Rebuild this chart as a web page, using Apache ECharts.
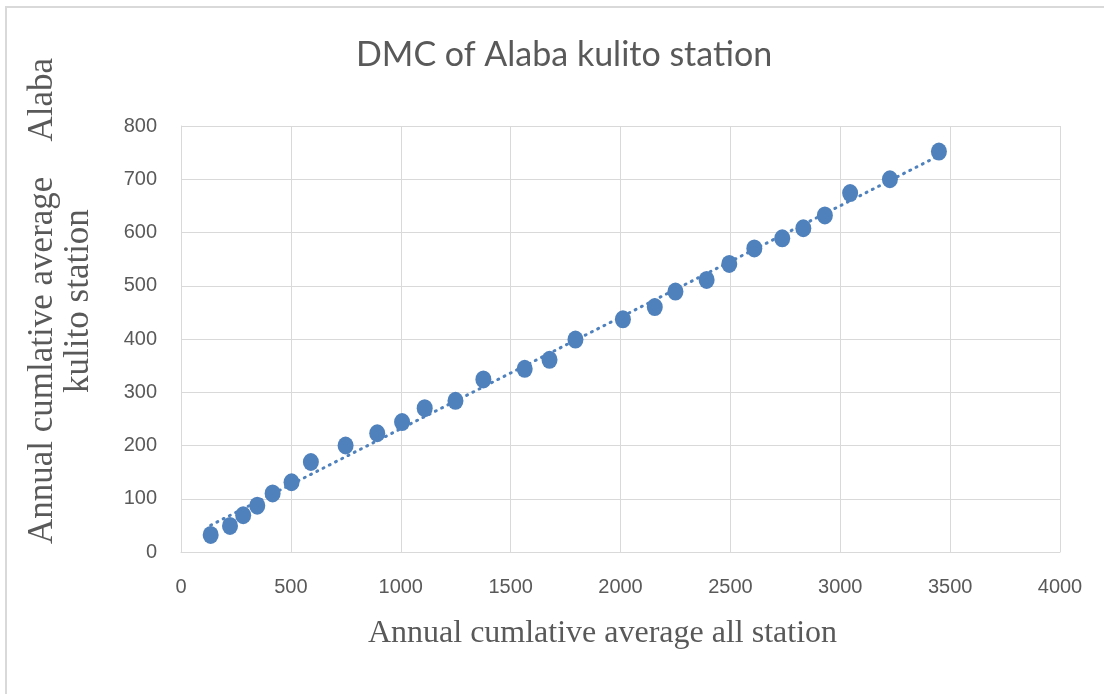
<!DOCTYPE html>
<html>
<head>
<meta charset="utf-8">
<script src="https://cdn.jsdelivr.net/npm/echarts@6/dist/echarts.min.js"></script>
<style>html,body{margin:0;padding:0;background:#fff}#c{width:1104px;height:694px}</style>
</head>
<body>
<div id="c"></div>
<script>
const titleText = 'DMC of Alaba kulito station';
const xAxisName = 'Annual cumlative average all station';
const yAxisName = 'Annual cumlative average    Alaba\nkulito station';
const allStation = [135, 223, 283, 347, 417, 503, 591, 749, 893, 1006, 1109, 1249, 1376, 1564, 1677, 1795, 2011, 2156, 2250, 2392, 2495, 2609, 2736, 2832, 2930, 3045, 3226, 3449];
const alabaKulito = [32, 49, 69, 87, 110, 131, 169, 200, 223, 244, 270, 284, 324, 344, 361, 399, 437, 460, 489, 511, 541, 570, 589, 608, 632, 674, 700, 752];
const xTicks = [0, 500, 1000, 1500, 2000, 2500, 3000, 3500, 4000];
const yTicks = [0, 100, 200, 300, 400, 500, 600, 700, 800];

const pts = allStation.map((x, i) => [x, alabaKulito[i]]);
// linear trendline (least squares) from the data
const n = pts.length;
const mx = allStation.reduce((a, b) => a + b, 0) / n;
const my = alabaKulito.reduce((a, b) => a + b, 0) / n;
let sxy = 0, sxx = 0;
for (let i = 0; i < n; i++) { sxy += (allStation[i] - mx) * (alabaKulito[i] - my); sxx += (allStation[i] - mx) ** 2; }
const slope = sxy / sxx, icpt = my - slope * mx;
const xMin = Math.min(...allStation), xMax = Math.max(...allStation);
const trend = [[xMin, icpt + slope * xMin], [xMax, icpt + slope * xMax]];

const chart = echarts.init(document.getElementById('c'));
chart.setOption({
  backgroundColor: '#fff',
  animation: false,
  title: {
    text: titleText, left: 351, top: 33,
    textStyle: { fontFamily: 'Lato', fontSize: 34, fontWeight: 'normal', color: '#595959' }
  },
  graphic: [{
    type: 'rect', silent: true, z: -1,
    shape: { x: 6, y: 7, width: 1200, height: 800 },
    style: { fill: 'none', stroke: '#D9D9D9', lineWidth: 2 }
  }],
  grid: { left: 181, right: 44, top: 126, bottom: 142 },
  xAxis: {
    type: 'value', min: xTicks[0], max: xTicks[xTicks.length - 1], interval: 500,
    name: xAxisName, nameLocation: 'middle', nameGap: 66,
    nameTextStyle: { fontFamily: 'Liberation Serif', fontSize: 32, color: '#595959', padding: [0, 36, 0, 0] },
    axisLine: { show: true, lineStyle: { color: '#D9D9D9', width: 1 } },
    axisTick: { show: false },
    axisLabel: { margin: 25, fontFamily: 'Liberation Sans', fontSize: 20, color: '#595959', formatter: v => String(v) },
    splitLine: { show: true, lineStyle: { color: '#D9D9D9', width: 1 } }
  },
  yAxis: {
    type: 'value', min: yTicks[0], max: yTicks[yTicks.length - 1], interval: 100,
    name: yAxisName, nameLocation: 'middle', nameGap: 84, nameRotate: 90,
    nameTextStyle: { fontFamily: 'Liberation Serif', fontSize: 35, lineHeight: 36, color: '#595959', padding: [0, 0, 0, 76] },
    axisLine: { show: true, lineStyle: { color: '#D9D9D9', width: 1 } },
    axisTick: { show: false },
    axisLabel: { margin: 24, fontFamily: 'Liberation Sans', fontSize: 20, color: '#595959', formatter: v => String(v) },
    splitLine: { show: true, lineStyle: { color: '#D9D9D9', width: 1 } }
  },
  series: [
    {
      type: 'line', data: trend, symbol: 'none', silent: true, z: 1,
      lineStyle: { color: '#4F81BD', width: 3, type: [1, 6], cap: 'round' }
    },
    {
      type: 'scatter', data: pts, symbol: 'circle', symbolSize: [16, 18], z: 2,
      itemStyle: { color: '#4F81BD', opacity: 1 }
    }
  ]
});
</script>
</body>
</html>
